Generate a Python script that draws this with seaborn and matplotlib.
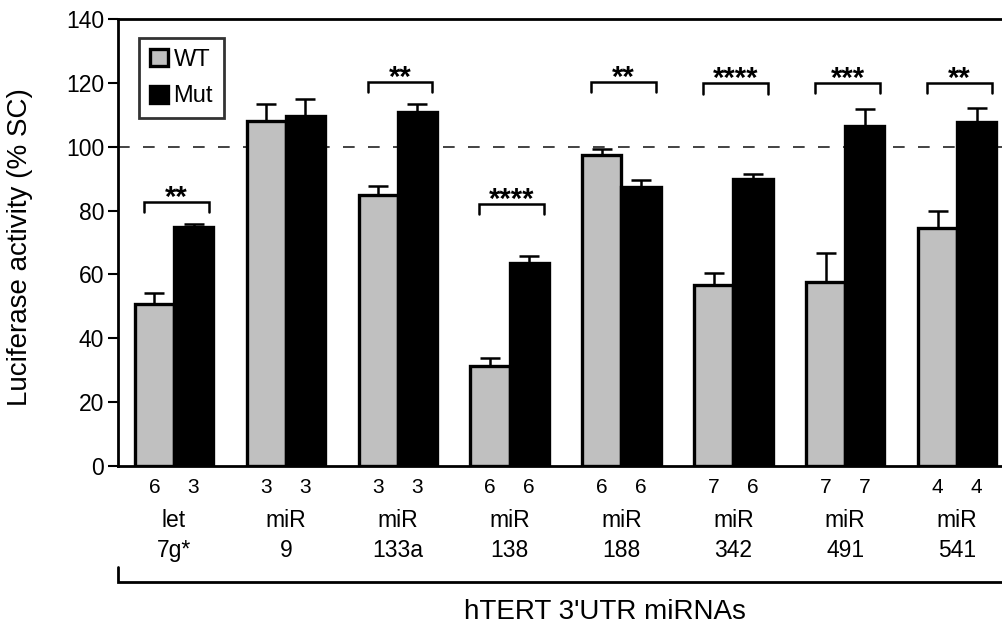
import pandas as pd
import matplotlib
matplotlib.use('Agg')
import matplotlib.pyplot as plt
import matplotlib.transforms as mtransforms
import seaborn as sns

# Values
label_top = ['let', 'miR', 'miR', 'miR', 'miR', 'miR', 'miR', 'miR']
label_bottom = ['7g*', '9', '133a', '138', '188', '342', '491', '541']
wt = [50.7, 108.1, 84.9, 31.4, 97.4, 56.7, 57.7, 74.6]
mut = [74.9, 109.6, 110.8, 63.5, 87.5, 89.8, 106.5, 107.8]
wt_err = [3.4, 5.3, 2.8, 2.3, 1.8, 3.9, 8.9, 5.3]
mut_err = [1.0, 5.2, 2.7, 2.2, 2.0, 1.6, 5.2, 4.4]
n_wt = [6, 3, 3, 6, 6, 7, 7, 4]
n_mut = [3, 3, 3, 6, 6, 6, 7, 4]
stars = ['**', '', '**', '****', '**', '****', '***', '**']
bracket_y = [82.6, None, 120.2, 82.1, 120.2, 119.8, 120.0, 120.0]

sns.set_style('white')
plt.rcParams['font.family'] = ['Liberation Sans', 'DejaVu Sans']
plt.rcParams['text.color'] = 'black'
plt.rcParams['axes.labelcolor'] = 'black'
plt.rcParams['ytick.color'] = 'black'

df = pd.DataFrame({
    'mirna': label_bottom * 2,
    'group': ['WT'] * len(wt) + ['Mut'] * len(mut),
    'value': wt + mut,
})

fig = plt.figure(figsize=(10.03, 6.24), dpi=100)
ax = fig.add_axes([118 / 1003, 158 / 624, 885 / 1003, 447 / 624])

sns.barplot(data=df, x='mirna', y='value', hue='group', order=label_bottom,
            hue_order=['WT', 'Mut'], palette=['#c0c0c0', 'black'],
            edgecolor='black', linewidth=2.4, width=0.7, gap=0,
            errorbar=None, ax=ax)

# error bars (upper only) on top of each bar
for cont, errs in zip(ax.containers, [wt_err, mut_err]):
    xs = [p.get_x() + p.get_width() / 2 for p in cont.patches]
    ys = [p.get_height() for p in cont.patches]
    ax.errorbar(xs, ys, yerr=[[0] * len(errs), errs], fmt='none', ecolor='black',
                elinewidth=1.8, capsize=7, capthick=1.8, zorder=1)

ax.axhline(100, color='#222222', lw=1.2, ls=(0, (7, 8)), zorder=0)

ax.set_xlim(-0.5, 7.41)
ax.set_ylim(0, 140)
ax.set_yticks(range(0, 141, 20))
ax.tick_params(axis='y', labelsize=16.5, length=7, width=1.5, direction='out', left=True,
               pad=3, colors='black')
ax.tick_params(axis='x', bottom=False, labelbottom=False)
ax.set_xlabel('')
ax.set_ylabel('Luciferase activity (% SC)', fontsize=20)
ax.yaxis.set_label_coords(-0.096, 0.49)
for s in ['left', 'top', 'bottom']:
    ax.spines[s].set_linewidth(2)
    ax.spines[s].set_color('black')
ax.spines['right'].set_visible(False)

# significance brackets
for i, (s, by) in enumerate(zip(stars, bracket_y)):
    if by is None:
        continue
    ax.plot([i - 0.27, i - 0.27, i + 0.31, i + 0.31], [by - 3.2, by, by, by - 3.2],
            color='black', lw=1.8, solid_joinstyle='miter')
    ax.text(i + 0.02, by - 1.2, s, ha='center', va='baseline', fontsize=21,
            fontweight='bold')

# counts and category labels below axis
trans = mtransforms.blended_transform_factory(ax.transData, ax.transAxes)
for i in range(len(label_bottom)):
    xw = ax.containers[0].patches[i]
    xm = ax.containers[1].patches[i]
    ax.text(xw.get_x() + xw.get_width() / 2, -0.047, str(n_wt[i]), transform=trans,
            ha='center', va='center', fontsize=15)
    ax.text(xm.get_x() + xm.get_width() / 2, -0.047, str(n_mut[i]), transform=trans,
            ha='center', va='center', fontsize=15)
    ax.text(i, -0.121, label_top[i], transform=trans, ha='center', va='center', fontsize=16.5)
    ax.text(i, -0.188, label_bottom[i], transform=trans, ha='center', va='center', fontsize=16.5)

# group bracket and axis title (the original axis runs past the cropped right edge)
ax.plot([0, 0, 1.0], [-0.226, -0.2595, -0.2595], transform=ax.transAxes, color='black',
        lw=2, clip_on=False, solid_joinstyle='miter')
ax.text(0.55, -0.327, "hTERT 3'UTR miRNAs", transform=ax.transAxes, ha='center',
        va='center', fontsize=20)

leg = ax.legend(loc='upper left', bbox_to_anchor=(0.024, 0.957), borderaxespad=0,
                fontsize=17, frameon=True, fancybox=False, edgecolor='black',
                handlelength=0.75, handleheight=0.75, handletextpad=0.25,
                labelspacing=0.62, borderpad=0.45, title=None)
leg.get_frame().set_linewidth(2)
for h in leg.legend_handles:
    h.set_linewidth(2.4)
    h.set_edgecolor('black')

fig.savefig('out.png', dpi=100)
